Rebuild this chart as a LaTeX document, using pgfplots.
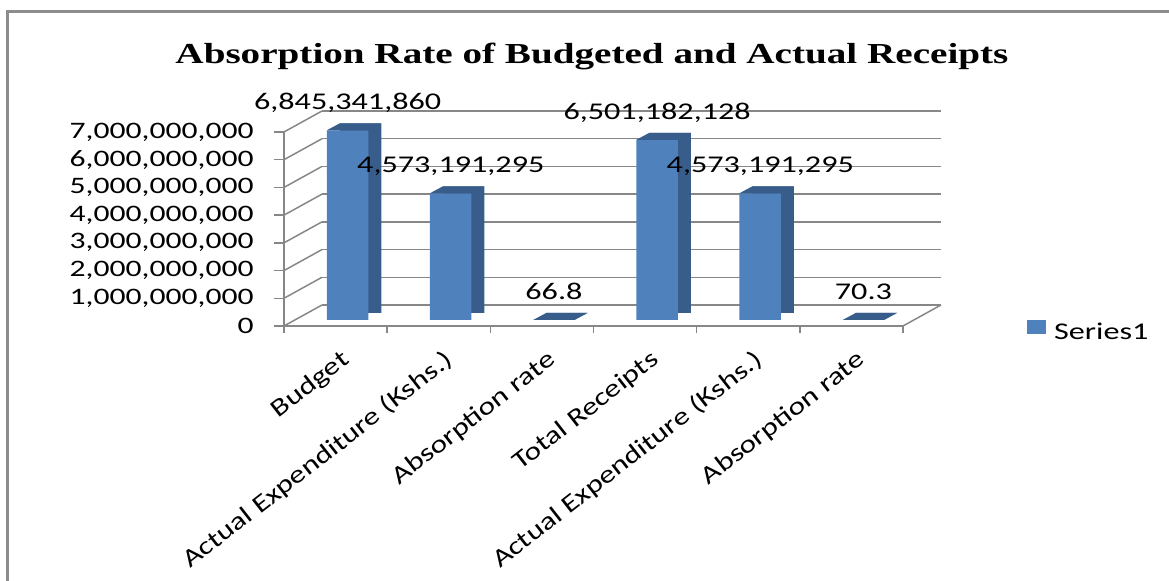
\documentclass[border=0pt]{standalone}
\usepackage{fontspec}
\setmainfont{Carlito}[FakeStretch=1.34]
\newfontfamily\labfont{Carlito}[FakeStretch=1.26]
\newfontfamily\titlefont{Liberation Serif}[FakeStretch=1.35]
\usepackage{pgfplots}
\pgfplotsset{compat=1.18}
\usepackage{pgfplotstable}
\definecolor{front}{HTML}{4F81BD}
\definecolor{side}{HTML}{385D8A}
\definecolor{gridc}{HTML}{878787}
\definecolor{framec}{HTML}{8C8C8C}

\pgfdeclareplotmark{topface}{%
  \pgfpathmoveto{\pgfpoint{-4.375pt}{3pt}}%
  \pgfpathlineto{\pgfpoint{16.375pt}{3pt}}%
  \pgfpathlineto{\pgfpoint{22.875pt}{6.5pt}}%
  \pgfpathlineto{\pgfpoint{2.125pt}{6.5pt}}%
  \pgfpathclose
  \pgfusepath{fill}}

\pgfplotstableread{
x y lab
0.5 6845341860 6,845,341,860
1.5 4573191295 4,573,191,295
2.5 66.8 66.8
3.5 6501182128 6,501,182,128
4.5 4573191295 4,573,191,295
5.5 70.3 70.3
}\datatable

\begin{document}
\begin{tikzpicture}
\path[use as bounding box] (0,0) rectangle (584.5pt,290.5pt);
\draw[framec, line width=1.5pt] (3.5pt,-10pt) -- (3.5pt,284.5pt) -- (600pt,284.5pt);
\node[anchor=base, font=\titlefont\bfseries\fontsize{14.5}{17}\selectfont] at (296pt,258.5pt) {Absorption Rate of Budgeted and Actual Receipts};
\begin{axis}[
  at={(142pt,127.5pt)}, anchor=south west,
  scale only axis, width=309.5pt, height=97pt,
  xmin=0, xmax=6, ymin=0, ymax=7e9,
  clip=false,
  axis lines*=left,
  axis line style={gridc, line width=0.75pt},
  tick align=outside,
  major tick length=5pt,
  minor tick length=3.5pt,
  ytick={0,1e9,2e9,3e9,4e9,5e9,6e9,7e9},
  yticklabels={0,{1,000,000,000},{2,000,000,000},{3,000,000,000},{4,000,000,000},{5,000,000,000},{6,000,000,000},{7,000,000,000}},
  scaled y ticks=false,
  yticklabel style={font=\fontsize{11.8}{14}\selectfont, anchor=east, inner sep=0pt, xshift=-10pt},
  ytick style={gridc, line width=0.75pt},
  ymajorgrids,
  major grid style={gridc, line width=0.75pt, xshift=19pt, yshift=10.5pt},
  xtick={0.5,1.5,2.5,3.5,4.5,5.5},
  xticklabels={Budget, Actual Expenditure (Kshs.), Absorption rate, Total Receipts, Actual Expenditure (Kshs.), Absorption rate},
  xticklabel style={font=\labfont\fontsize{12.5}{14}\selectfont, rotate=38, anchor=north east, inner sep=0pt, xshift=-2pt, yshift=-6pt},
  every major x tick/.append style={draw=none},
  minor xtick={0,1,2,3,4,5,6},
  every minor x tick/.append style={gridc, line width=0.75pt},
  legend style={draw=none, fill=none, at={(1.2,-0.035)}, anchor=west, inner sep=0pt, font=\fontsize{12}{14}\selectfont, nodes={inner xsep=4pt}},
  legend image code/.code={\fill[front] (0pt,-3.5pt) rectangle (9.5pt,3.5pt);},
]
\pgfplotsinvokeforeach{0,1,2,3,4,5,6,7}{\draw[gridc, line width=0.75pt] (axis cs:0,#1e9) -- ++(19pt,10.5pt);}
\draw[gridc, line width=0.75pt] (axis cs:6,0) -- ++(19pt,10.5pt);
\addplot[ybar, bar width=20.75pt, bar shift=12.5pt, yshift=6.5pt, fill=side, draw=none, forget plot] table[x=x,y=y]{\datatable};
\addplot[ybar, bar width=20.75pt, bar shift=6pt, yshift=3pt, fill=front, draw=none] table[x=x,y=y]{\datatable};
\addlegendentry{Series1}
\addplot[only marks, mark=topface, color=side, forget plot] table[x=x,y=y]{\datatable};
\addplot[draw=none, mark=none, forget plot, point meta=explicit symbolic, nodes near coords,
  nodes near coords style={font=\fontsize{12}{14}\selectfont, text=black, inner sep=0pt, text depth=0pt, anchor=south, xshift=6pt, yshift=13pt}]
  table[x=x,y=y,meta=lab]{\datatable};
\end{axis}
\end{tikzpicture}
\end{document}
